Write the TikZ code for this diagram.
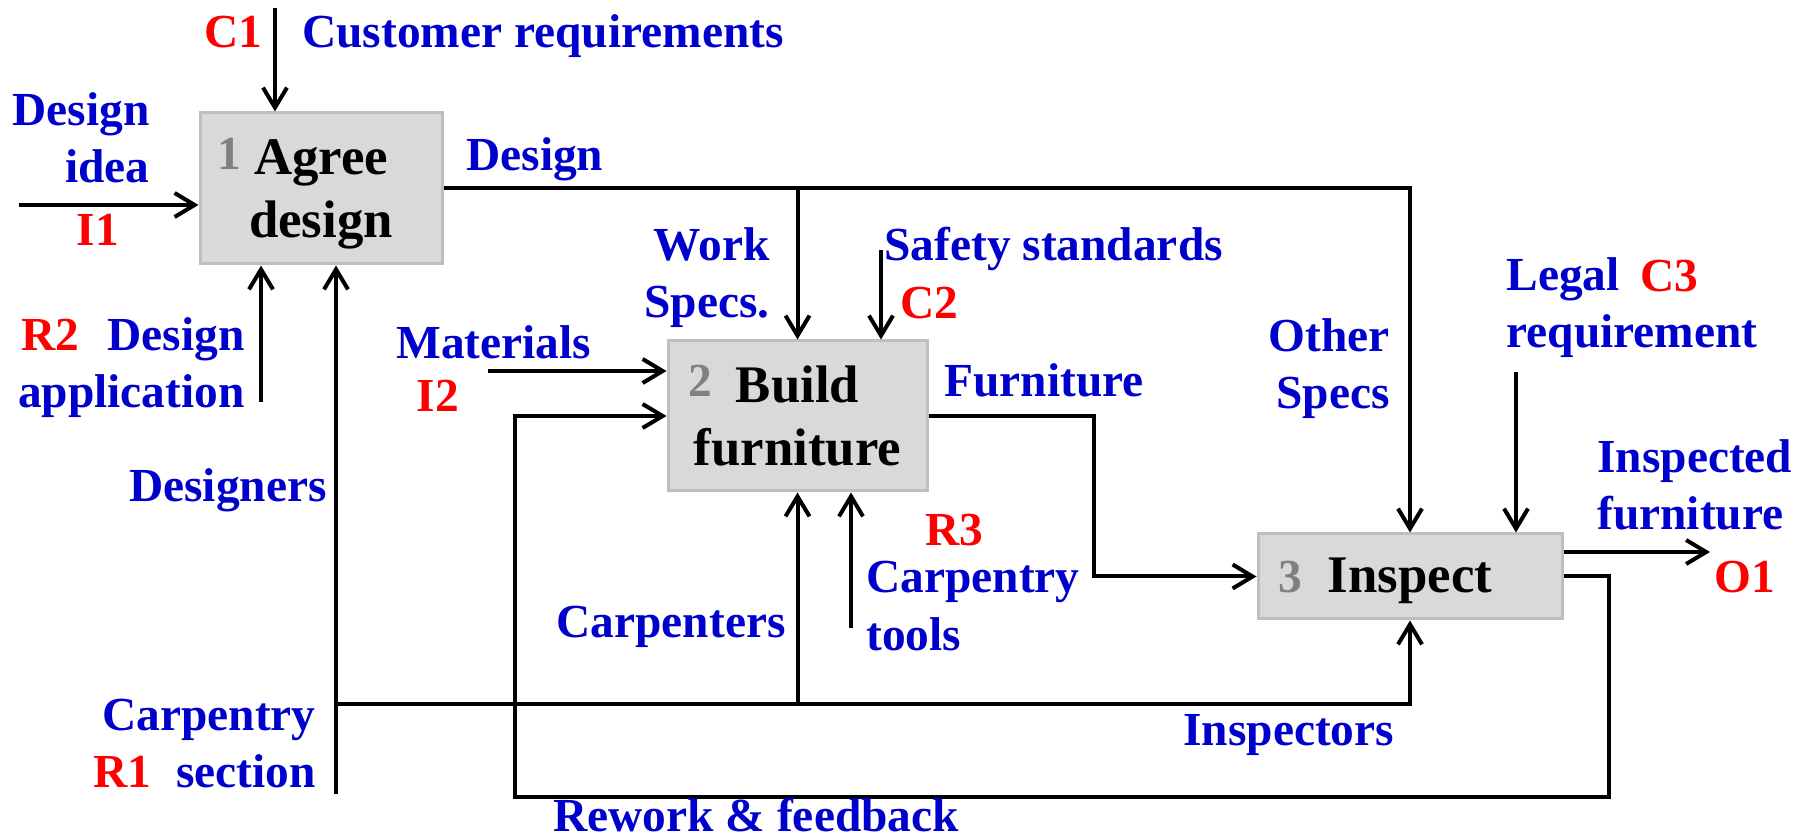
\documentclass[tikz,border=0pt]{standalone}
\usepackage{fontspec}
\setmainfont{Liberation Serif}
\usetikzlibrary{arrows.meta}
\definecolor{boxfill}{RGB}{217,217,217}
\definecolor{boxedge}{RGB}{191,191,191}
\definecolor{lblblue}{RGB}{0,0,204}
\definecolor{tagred}{RGB}{255,0,0}
\definecolor{numgray}{RGB}{128,128,128}
\tikzset{
  proc/.style={draw=boxedge,fill=boxfill,line width=1.5pt,inner sep=0pt,align=center,
    font=\fontsize{26.4}{31.5}\selectfont\bfseries},
  lbl/.style={text=lblblue,inner sep=0pt,font=\fontsize{23.7}{28.5}\selectfont\bfseries},
  tag/.style={text=tagred,inner sep=0pt,font=\fontsize{23.7}{28.5}\selectfont\bfseries},
  num/.style={text=numgray,inner sep=0pt,font=\fontsize{23.7}{28.5}\selectfont\bfseries},
  conn/.style={line width=2pt,-{Straight Barb[length=10pt,width=12pt,line width=2pt]}}
}
\begin{document}
\begin{tikzpicture}[x=0.5pt,y=-0.5pt]
\useasboundingbox (0,0) rectangle (1808,838);
\node[proc,minimum width=121pt,minimum height=75.5pt,text depth=0pt] (agree) at (321,188.5) {Agree\\design};
\node[proc,minimum width=129.5pt,minimum height=75pt] (build) at (797.5,416) {Build\\furniture};
\node[proc,minimum width=152pt,minimum height=42.5pt,text depth=1.5pt] (inspect) at (1410,576.5) {Inspect};
\node[num,anchor=base] (n1) at (229,170) {1};
\node[num,anchor=base] (n2) at (700,397) {2};
\node[num,anchor=base] (n3) at (1290,593) {3};

\coordinate (c1end) at (275,8);
\coordinate (i1end) at (19,205);
\coordinate (r2end) at (261,402);
\coordinate (r1end) at (336,794);
\coordinate (r1bus) at (336,704);
\coordinate (i2end) at (488,371);
\coordinate (c2end) at (881,250);
\coordinate (r3end) at (851,628);
\coordinate (c3end) at (1516,372);
\coordinate (o1end) at (1710,552);
\coordinate (fbturn) at (1609,797);
\coordinate (fbleft) at (515,797);

\draw[conn] (c1end) -- (c1end |- agree.north);
\draw[conn] (i1end) -- (i1end -| agree.west);
\draw[conn] (r2end) -- (r2end |- agree.south);
\draw[conn] (r1end) -- (r1end |- agree.south);
\draw[conn] (agree.east) -| (inspect.north);
\draw[conn] (agree.east -| build.north) -- (build.north);
\draw[conn] (c2end) -- (c2end |- build.north);
\draw[conn] (i2end) -- (i2end -| build.west);
\draw[conn] (build.east) -- ++(165,0) |- (inspect.west);
\draw[conn] (inspect.east) -| (fbturn) -| (fbleft |- build.west) -- (build.west);
\draw[conn] (o1end -| inspect.east) -- (o1end);
\draw[conn] (c3end) -- (c3end |- inspect.north);
\draw[conn] (r1bus) -| (inspect.south);
\draw[conn] (r1bus -| build.south) -- (build.south);
\draw[conn] (r3end) -- (r3end |- build.south);

\node[tag,anchor=base west] (c1) at (204,48) {C1};
\node[lbl,anchor=base west] (custreq) at (302,48) {Customer requirements};
\node[lbl,anchor=base east,align=right] (ideatxt) at (150,183) {Design\\idea};
\node[tag,anchor=base] (i1) at (98,246) {I1};
\node[tag,anchor=base west] (r2) at (21,351) {R2};
\node[lbl,anchor=base east,align=right] (apptxt) at (245,408) {Design\\application};
\node[lbl,anchor=base east] (desgnrs) at (327,502) {Designers};
\node[lbl,anchor=base east,align=right] (sectxt) at (316,787) {Carpentry\\section};
\node[tag,anchor=base west] (r1) at (93,787) {R1};
\node[lbl,anchor=base west] (designtxt) at (466,171) {Design};
\node[lbl,anchor=base east,align=right] (workspec) at (770,318) {Work\\Specs.};
\node[lbl,anchor=base west] (safety) at (884,261) {Safety standards};
\node[tag,anchor=base west] (c2) at (900,319) {C2};
\node[lbl,anchor=base west] (mat) at (396,359) {Materials};
\node[tag,anchor=base] (i2) at (438,412) {I2};
\node[lbl,anchor=base west] (furn) at (944,397) {Furniture};
\node[tag,anchor=base west] (r3) at (925,546) {R3};
\node[lbl,anchor=base west,align=left] (tools) at (866,650) {Carpentry\\tools};
\node[lbl,anchor=base east] (carp) at (786,638) {Carpenters};
\node[lbl,anchor=base west] (insptrs) at (1183,745) {Inspectors};
\node[lbl,anchor=base west] (rework) at (553,831) {Rework \& feedback};
\node[lbl,anchor=base east,align=right] (otherspec) at (1390,409) {Other\\Specs};
\node[lbl,anchor=base west,align=left] (legal) at (1506,348) {Legal\\requirement};
\node[tag,anchor=base west] (c3) at (1640,292) {C3};
\node[lbl,anchor=base west,align=left] (inspfurn) at (1597,530) {Inspected\\furniture};
\node[tag,anchor=base west] (o1) at (1714,593) {O1};
\end{tikzpicture}
\end{document}
